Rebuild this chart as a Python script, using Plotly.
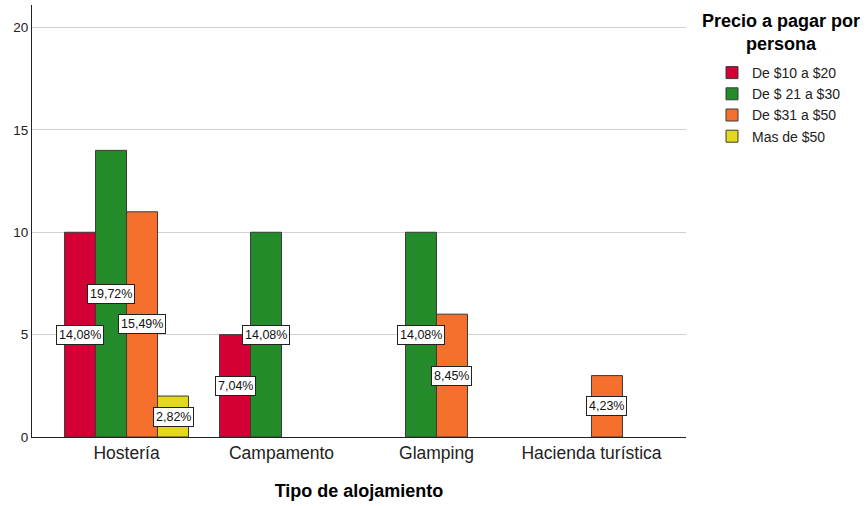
import plotly.graph_objects as go

# Accommodation types and counts per price range
categories = ["Hostería", "Campamento", "Glamping", "Hacienda turística"]
series_names = ["De $10 a $20", "De $ 21 a $30", "De $31 a $50", "Mas de $50"]
counts = [
    [10, 5, 0, 0],
    [14, 10, 10, 0],
    [11, 0, 6, 3],
    [2, 0, 0, 0],
]
colors = ["#d40035", "#248b2b", "#f4702c", "#e3d81c"]
total = 71

PLOT_L, PLOT_R, PLOT_T, PLOT_B = 32, 180, 5, 69
W, H = 866, 506
PW, PH = W - PLOT_L - PLOT_R, H - PLOT_T - PLOT_B
FONT = "Liberation Sans, Arial"

fig = go.Figure()
for name, vals, col in zip(series_names, counts, colors):
    # empty cells are left undrawn
    fig.add_trace(go.Bar(
        x=categories, y=[v if v > 0 else None for v in vals], name=name,
        marker=dict(color=col, line=dict(color="#3a3a3a", width=1)),
    ))

# Percentage labels in boxes at the middle of each non-empty bar
n = len(series_names)
bar_w = 0.8 / n
for s, vals in enumerate(counts):
    off = -0.4 + bar_w * (s + 0.5)
    for i, v in enumerate(vals):
        if v <= 0:
            continue
        pct = f"{v / total * 100:.2f}%".replace(".", ",")
        fig.add_annotation(
            x=i + off, y=v / 2, xref="x", yref="y", text=pct,
            showarrow=False, bgcolor="white", bordercolor="#222222",
            borderwidth=1, borderpad=2,
            font=dict(family=FONT, size=12.5, color="#111111"),
        )

# Legend heading, placed by pixel position
fig.add_annotation(
    x=(781 - PLOT_L) / PW, y=(H - PLOT_B - 33) / PH, xref="paper", yref="paper",
    xanchor="center", yanchor="middle",
    text="<b>Precio a pagar por<br>persona</b>", showarrow=False,
    font=dict(family=FONT, size=18, color="#000000"),
)

fig.update_layout(
    width=W, height=H,
    margin=dict(l=PLOT_L, r=PLOT_R, t=PLOT_T, b=PLOT_B),
    paper_bgcolor="white", plot_bgcolor="white",
    barmode="group", bargap=0.2, bargroupgap=0.0,
    font=dict(family=FONT, size=13, color="#222222"),
    legend=dict(
        x=(712 - PLOT_L) / PW, y=(H - PLOT_B - 57) / PH, xanchor="left", yanchor="top",
        font=dict(family=FONT, size=14, color="#222222"),
        tracegroupgap=0, itemwidth=30,
    ),
    xaxis=dict(
        range=[-0.61, 3.61], showline=True, linecolor="#222222", linewidth=1,
        ticks="", tickfont=dict(size=17.5, color="#222222"),
        title=dict(text="<b>Tipo de alojamiento</b>", font=dict(size=18, color="#000000"), standoff=22),
    ),
    yaxis=dict(
        range=[0, 21.1], tickvals=[0, 5, 10, 15, 20], showline=True,
        linecolor="#222222", linewidth=1, showgrid=True, gridcolor="#d0d0d0",
        zeroline=False, ticks="", tickfont=dict(size=13.5, color="#222222"),
    ),
)

fig.write_html("out.html")
